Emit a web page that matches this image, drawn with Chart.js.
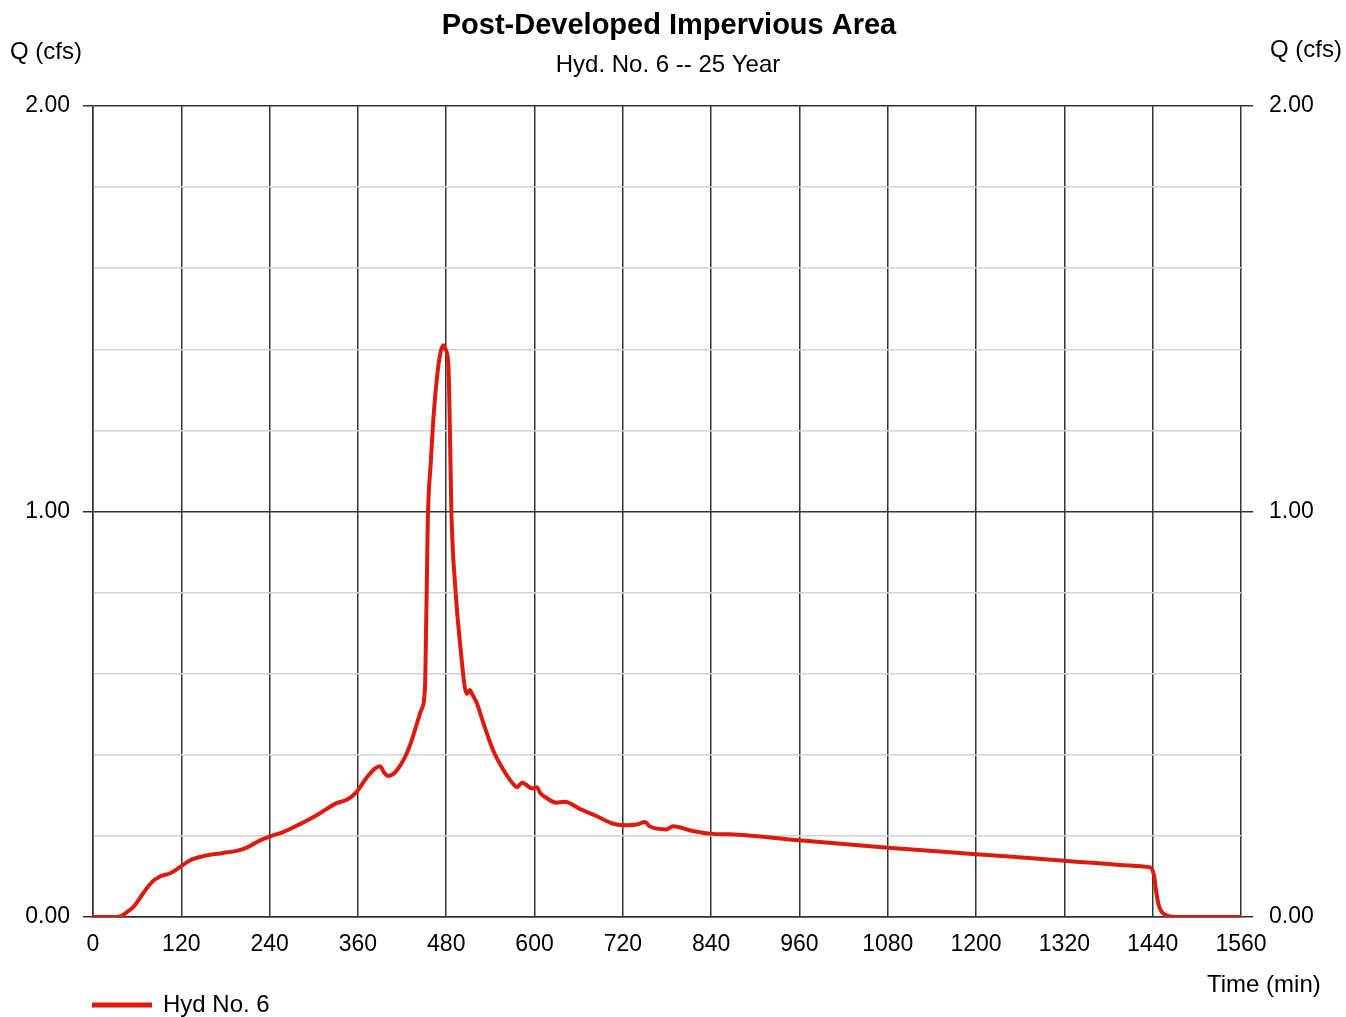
<!DOCTYPE html>
<html>
<head>
<meta charset="utf-8">
<script src="https://cdn.jsdelivr.net/npm/chart.js@4.4.1/dist/chart.umd.min.js"></script>
<style>
  body { margin: 0; background: #fff; }
  #wrap { width: 1346px; height: 1017px; }
</style>
</head>
<body>
<div id="wrap"><canvas id="chartHyd" width="1346" height="1017"></canvas></div>
<script>
// hydrograph: time (min) / flow (cfs)
const timeMin = [0, 30, 38, 46, 55, 68, 80, 91, 105, 118, 132, 150, 177, 195, 209, 227, 241, 259, 281, 304,
    318, 331, 345, 358, 372, 383, 390, 396, 401, 410, 418, 426, 433, 440, 446, 451, 453, 455, 459, 463,
    468, 472, 476, 479, 483, 485, 487, 492, 499, 508, 512, 515, 521, 532, 544, 557, 571, 576, 583, 597,
    603, 608, 616, 629, 641, 662, 684, 707, 725, 739, 750, 757, 779, 788, 815, 842, 865, 960, 1080, 1200,
    1320, 1430, 1438, 1442, 1445, 1448, 1453, 1462, 1470, 1560];
const flowCfs = [0, 0, 0.002, 0.012, 0.025, 0.058, 0.086, 0.1, 0.108, 0.123, 0.14, 0.15, 0.158, 0.163, 0.171, 0.189, 0.199, 0.21, 0.229, 0.251,
    0.267, 0.281, 0.289, 0.308, 0.344, 0.366, 0.372, 0.355, 0.348, 0.356, 0.375, 0.402, 0.435, 0.476, 0.51, 0.56, 0.75, 0.98, 1.12, 1.24,
    1.34, 1.39, 1.41, 1.40, 1.36, 1.2, 1.0, 0.82, 0.67, 0.55, 0.56, 0.55, 0.53, 0.47, 0.41, 0.365, 0.328, 0.32, 0.331, 0.317,
    0.32, 0.305, 0.294, 0.282, 0.284, 0.266, 0.249, 0.23, 0.226, 0.228, 0.234, 0.223, 0.216, 0.224, 0.212, 0.205, 0.204, 0.189, 0.171, 0.155,
    0.139, 0.124, 0.121, 0.1, 0.06, 0.03, 0.011, 0.002, 0, 0];

const titulo = 'Post-Developed Impervious Area';
const subtitulo = 'Hyd. No. 6 -- 25 Year';
const etiquetaY = 'Q (cfs)';
const etiquetaX = 'Time (min)';
const etiquetaSerie = 'Hyd No. 6';

const FONT = '"Liberation Sans", Arial, sans-serif';
const ROJO = '#dc1a0e';

const esEntero = v => Math.abs(v - Math.round(v)) < 1e-6;

const textos = {
    id: 'textos',
    afterDraw(chart) {
        const c = chart.ctx;
        c.save();
        c.fillStyle = '#000';
        c.textBaseline = 'middle';
        c.textAlign = 'center';
        c.font = 'bold 29px ' + FONT;
        c.fillText(titulo, 669, 26);
        c.font = '24px ' + FONT;
        c.fillText(subtitulo, 668, 65);
        c.textAlign = 'left';
        c.fillText(etiquetaY, 10, 52);
        c.fillText(etiquetaY, 1270, 50);
        c.fillText(etiquetaX, 1207, 985);
        c.fillText(etiquetaSerie, 163, 1005);
        c.strokeStyle = ROJO;
        c.lineWidth = 5;
        c.beginPath();
        c.moveTo(92, 1005);
        c.lineTo(152, 1005);
        c.stroke();
        c.restore();
    }
};

const ctx = document.getElementById('chartHyd').getContext('2d');

const chartHyd = new Chart(ctx, {
    type: 'line',
    data: {
        datasets: [{
            label: etiquetaSerie,
            data: timeMin.map((t, i) => ({ x: t, y: flowCfs[i] })),
            borderColor: ROJO,
            borderWidth: 4,
            pointRadius: 0,
            fill: false,
            cubicInterpolationMode: 'monotone',
            yAxisID: 'y'
        }]
    },
    options: {
        responsive: false,
        animation: false,
        layout: { padding: { left: 0, right: 0, top: 106, bottom: 55 } },
        plugins: {
            legend: { display: false },
            title: { display: false },
            tooltip: { enabled: false }
        },
        scales: {
            x: {
                type: 'linear',
                min: 0,
                max: 1560,
                ticks: {
                    stepSize: 120,
                    color: '#000',
                    font: { size: 23, family: FONT },
                    padding: 14,
                    maxRotation: 0,
                    callback: v => String(v)
                },
                grid: { color: '#333', lineWidth: 1.5, drawTicks: false },
                border: { color: '#333', width: 1.5 },
                afterFit: s => { s.height = 45; }
            },
            y: {
                position: 'left',
                min: 0,
                max: 2,
                ticks: {
                    stepSize: 0.2,
                    color: '#000',
                    font: { size: 23, family: FONT },
                    padding: 13,
                    callback: v => esEntero(v) ? v.toFixed(2) : ''
                },
                grid: {
                    color: c => esEntero(c.tick.value) ? '#333' : '#d2d2d2',
                    tickColor: c => esEntero(c.tick.value) ? '#333' : 'rgba(0,0,0,0)',
                    lineWidth: 1.5,
                    tickLength: 10
                },
                border: { color: '#333', width: 1.5 },
                afterFit: s => { s.width = 93; }
            },
            y2: {
                position: 'right',
                min: 0,
                max: 2,
                ticks: {
                    stepSize: 0.2,
                    color: '#000',
                    font: { size: 23, family: FONT },
                    padding: 16,
                    callback: v => esEntero(v) ? v.toFixed(2) : ''
                },
                grid: {
                    drawOnChartArea: false,
                    tickColor: c => esEntero(c.tick.value) ? '#333' : 'rgba(0,0,0,0)',
                    lineWidth: 1.5,
                    tickLength: 12
                },
                border: { display: false },
                afterFit: s => { s.width = 105; }
            }
        }
    },
    plugins: [textos]
});
</script>
</body>
</html>
